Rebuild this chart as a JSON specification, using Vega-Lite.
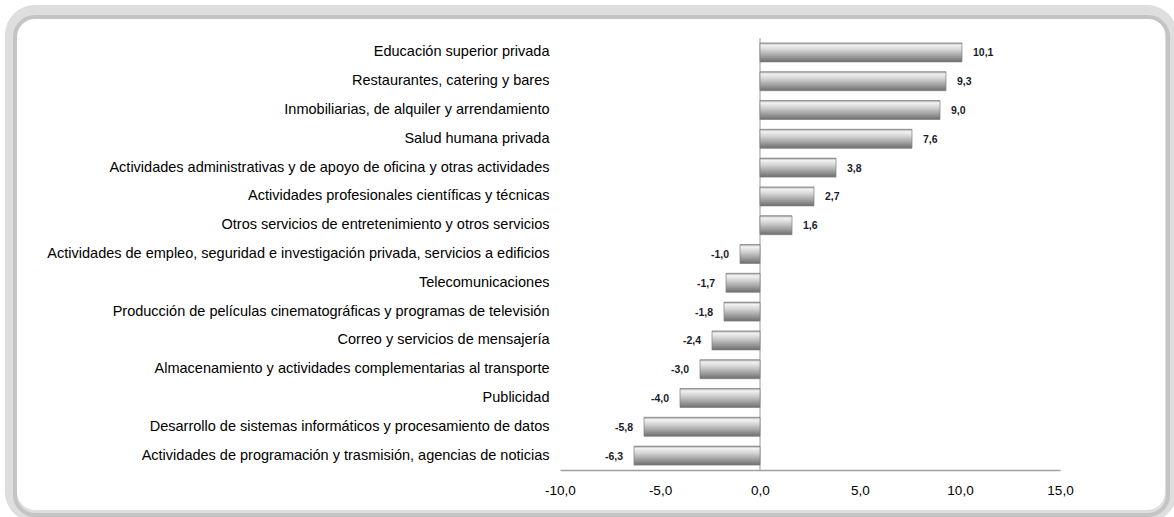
{
  "$schema": "https://vega.github.io/schema/vega-lite/v6.json",
  "width": 500,
  "height": 432,
  "autosize": {"type": "none"},
  "padding": {"left": 560, "top": 38, "right": 114, "bottom": 47},
  "background": "white",
  "config": {
    "view": {"stroke": null},
    "font": "Liberation Sans",
    "locale": {"number": {"decimal": ",", "thousands": ".", "grouping": [3], "currency": ["", " €"], "minus": "-"}}
  },
  "layer": [
    {
      "data": {"values": [{}]},
      "mark": {"type": "rect", "fill": null, "fillOpacity": 0, "stroke": "#dedede", "strokeWidth": 12, "cornerRadius": 24},
      "encoding": {
        "x": {"datum": -37.45, "type": "quantitative", "scale": {"domain": [-10, 15], "nice": false}},
        "x2": {"datum": 20.55},
        "y": {"datum": 1.0625, "type": "quantitative", "scale": {"domain": [0, 1], "nice": false, "zero": false}, "axis": null},
        "y2": {"datum": -0.1065}
      }
    },
    {
      "data": {"values": [{}]},
      "mark": {"type": "rect", "fill": null, "fillOpacity": 0, "stroke": "#c4c4c4", "strokeWidth": 4, "cornerRadius": 20},
      "encoding": {
        "x": {"datum": -37.25, "type": "quantitative", "scale": {"domain": [-10, 15], "nice": false}},
        "x2": {"datum": 20.4},
        "y": {"datum": 1.0486, "type": "quantitative", "scale": {"domain": [0, 1], "nice": false, "zero": false}, "axis": null},
        "y2": {"datum": -0.1042}
      }
    },
    {
      "data": {"values": [{}]},
      "mark": {"type": "rule", "color": "#9a9a9a", "strokeWidth": 1},
      "encoding": {"x": {"datum": 0, "type": "quantitative", "scale": {"domain": [-10, 15], "nice": false}}}
    },
    {
      "data": {
        "values": [
          {"cat": "Educación superior privada", "v": 10.1},
          {"cat": "Restaurantes, catering y bares", "v": 9.3},
          {"cat": "Inmobiliarias, de alquiler y arrendamiento", "v": 9.0},
          {"cat": "Salud humana privada", "v": 7.6},
          {"cat": "Actividades administrativas y de apoyo de oficina y otras actividades", "v": 3.8},
          {"cat": "Actividades profesionales científicas y técnicas", "v": 2.7},
          {"cat": "Otros servicios de entretenimiento y otros servicios", "v": 1.6},
          {"cat": "Actividades de empleo, seguridad e investigación privada, servicios a edificios", "v": -1.0},
          {"cat": "Telecomunicaciones", "v": -1.7},
          {"cat": "Producción de películas cinematográficas y programas de televisión", "v": -1.8},
          {"cat": "Correo y servicios de mensajería", "v": -2.4},
          {"cat": "Almacenamiento y actividades complementarias al transporte", "v": -3.0},
          {"cat": "Publicidad", "v": -4.0},
          {"cat": "Desarrollo de sistemas informáticos y procesamiento de datos", "v": -5.8},
          {"cat": "Actividades de programación y trasmisión, agencias de noticias", "v": -6.3}
        ]
      },
      "encoding": {
        "y": {
          "field": "cat", "type": "nominal", "sort": null,
          "scale": {"paddingInner": 0.34, "paddingOuter": 0.17},
          "axis": {"title": null, "domain": false, "ticks": false, "labelFontSize": 14.5, "labelColor": "#000000", "labelPadding": 11, "labelLimit": 700, "labelFont": "Liberation Sans", "zindex": 1}
        }
      },
      "layer": [
        {
          "mark": {
            "type": "bar",
            "fill": {"gradient": "linear", "x1": 0, "y1": 0, "x2": 0, "y2": 1,
              "stops": [
                {"offset": 0, "color": "#999999"},
                {"offset": 0.12, "color": "#f2f2f2"},
                {"offset": 0.35, "color": "#d6d6d6"},
                {"offset": 0.75, "color": "#979797"},
                {"offset": 1, "color": "#6e6e6e"}
              ]},
            "stroke": "#808080",
            "strokeWidth": 0.7
          },
          "encoding": {
            "x": {
              "field": "v", "type": "quantitative",
              "scale": {"domain": [-10, 15], "nice": false},
              "axis": {"title": null, "values": [-10, -5, 0, 5, 10, 15], "format": ".1f", "grid": false, "ticks": false, "domainColor": "#a0a0a0", "domainWidth": 1.5, "labelFontSize": 13.5, "labelColor": "#000000", "labelPadding": 13, "labelFlush": false, "zindex": 1}
            }
          }
        },
        {
          "transform": [{"filter": "datum.v >= 0"}],
          "mark": {"type": "text", "align": "left", "dx": 11, "dy": 1, "fontSize": 10.5, "fontWeight": "bold", "color": "#1a1a2a"},
          "encoding": {
            "x": {"field": "v", "type": "quantitative", "scale": {"domain": [-10, 15], "nice": false}},
            "text": {"field": "v", "type": "quantitative", "format": ".1f"}
          }
        },
        {
          "transform": [{"filter": "datum.v < 0"}],
          "mark": {"type": "text", "align": "right", "dx": -11, "dy": 1, "fontSize": 10.5, "fontWeight": "bold", "color": "#1a1a2a"},
          "encoding": {
            "x": {"field": "v", "type": "quantitative", "scale": {"domain": [-10, 15], "nice": false}},
            "text": {"field": "v", "type": "quantitative", "format": ".1f"}
          }
        }
      ]
    }
  ],
  "resolve": {"scale": {"y": "independent"}}
}
